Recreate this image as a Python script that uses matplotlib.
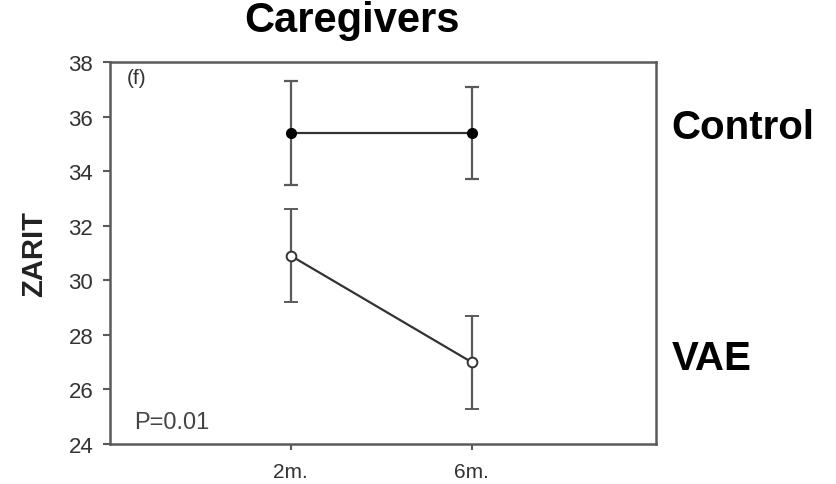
import matplotlib
matplotlib.use("Agg")
import matplotlib.pyplot as plt

plt.rcParams['font.family'] = ['Liberation Sans', 'DejaVu Sans']

# data
times = ["2m.", "6m."]
x_pos = [1, 2]
control_mean = [35.4, 35.4]
control_err = [1.9, 1.7]
vae_mean = [30.9, 27.0]
vae_err = [1.7, 1.7]

grey = "#5a5a5a"

fig = plt.figure(figsize=(8.37, 4.85), dpi=100)
ax = fig.add_axes([0.1314, 0.0825, 0.6524, 0.7875])

ax.errorbar(x_pos, control_mean, yerr=control_err, color="#333333", lw=1.6,
            ecolor=grey, elinewidth=1.6, capsize=5, capthick=1.6,
            marker="o", ms=7, mfc="black", mec="black", zorder=3)
ax.errorbar(x_pos, vae_mean, yerr=vae_err, color="#333333", lw=1.6,
            ecolor=grey, elinewidth=1.6, capsize=5, capthick=1.6,
            marker="o", ms=7, mfc="white", mec="#333333", mew=1.4, zorder=3)

ax.set_xlim(0, 3.02)
ax.set_ylim(24, 38)
ax.set_yticks(range(24, 39, 2))
ax.set_xticks(x_pos)
ax.set_xticklabels(times)

for s in ax.spines.values():
    s.set_color(grey)
    s.set_linewidth(1.8)

ax.tick_params(axis="y", direction="out", length=5, width=1.5, color=grey,
               labelsize=16, labelcolor="#333333", pad=7)
ax.tick_params(axis="x", direction="out", length=4, width=1.5, color=grey,
               labelsize=15, labelcolor="#333333", pad=9)

ax.set_ylabel("ZARIT", fontsize=21, fontweight="bold", color="#222222", labelpad=15)

ax.text(0.03, 0.985, "(f)", transform=ax.transAxes, fontsize=15,
        color="#333333", va="top", ha="left")
ax.text(0.045, 0.03, "P=0.01", transform=ax.transAxes, fontsize=17,
        color="#444444", va="bottom", ha="left")

fig.text(0.42, 0.915, "Caregivers", fontsize=30, fontweight="bold",
         ha="center", va="bottom")
fig.text(0.802, 0.737, "Control", fontsize=29, fontweight="bold",
         ha="left", va="center")
fig.text(0.802, 0.26, "VAE", fontsize=29, fontweight="bold",
         ha="left", va="center")

fig.savefig("out.png", dpi=100)
